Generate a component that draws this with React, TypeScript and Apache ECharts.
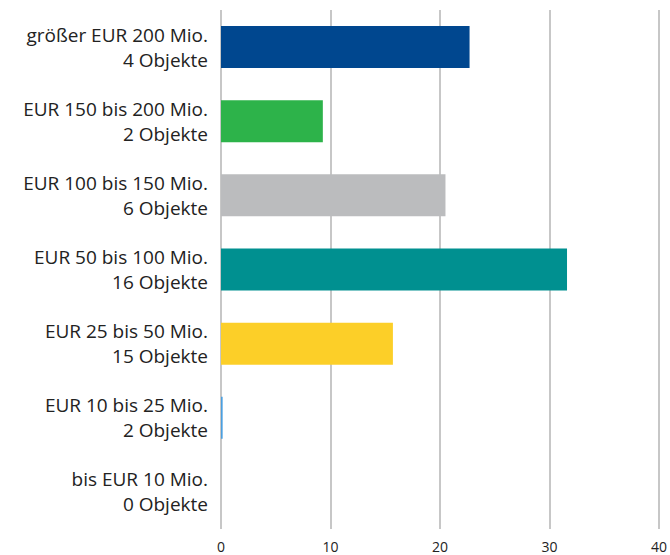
import React, { useEffect, useRef } from "react";
import * as echarts from "echarts";

const categories = [
  "größer EUR 200 Mio.\n4 Objekte",
  "EUR 150 bis 200 Mio.\n2 Objekte",
  "EUR 100 bis 150 Mio.\n6 Objekte",
  "EUR 50 bis 100 Mio.\n16 Objekte",
  "EUR 25 bis 50 Mio.\n15 Objekte",
  "EUR 10 bis 25 Mio.\n2 Objekte",
  "bis EUR 10 Mio.\n0 Objekte",
];
const values = [22.7, 9.3, 20.5, 31.6, 15.7, 0.15, 0];
const colors = ["#00478F", "#2DB34A", "#BBBCBE", "#009090", "#FCCF28", "#4A9FE0", "#cccccc"];
const xTicks = { min: 0, max: 40, interval: 10 };

export default function App() {
  const ref = useRef<HTMLDivElement>(null);
  useEffect(() => {
    const chart = echarts.init(ref.current!, null, { renderer: "svg" });
    chart.setOption({
      animation: false,
      grid: { left: 221, right: 11, top: 10, bottom: 26, containLabel: false },
      xAxis: {
        type: "value",
        min: xTicks.min,
        max: xTicks.max,
        interval: xTicks.interval,
        axisLine: { show: false },
        axisTick: { show: false },
        splitLine: { show: true, lineStyle: { color: "#b4b4b4", width: 1.5 } },
        axisLabel: {
          color: "#222",
          fontSize: 14,
          fontFamily: "Open Sans",
          margin: 10,
          showMaxLabel: true,
        },
      },
      yAxis: {
        type: "category",
        inverse: true,
        data: categories,
        axisLine: { show: false },
        axisTick: { show: false },
        splitLine: { show: false },
        axisLabel: {
          color: "#222",
          fontSize: 19,
          lineHeight: 25,
          fontFamily: "Open Sans",
          align: "right",
          margin: 13,
          padding: [6, 0, 0, 0],
        },
      },
      series: [
        {
          type: "bar",
          barWidth: 42,
          data: values.map((v, i) => ({ value: v, itemStyle: { color: colors[i] } })),
        },
      ],
    });
    return () => chart.dispose();
  }, []);
  return <div ref={ref} style={{ width: 670, height: 555, position: "absolute", left: 0, top: 0 }} />;
}
